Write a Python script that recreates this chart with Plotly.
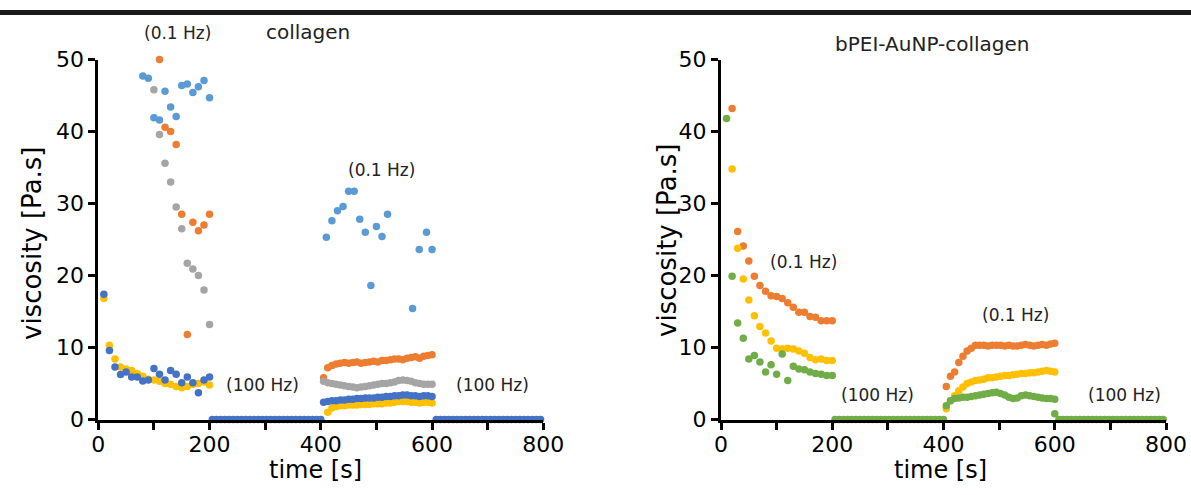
import numpy as np
import plotly.graph_objects as go

# ---- data: collagen (left panel) ----
t_seg1 = list(range(10, 201, 10))
t_dense = list(np.arange(405, 601, 7.5))
t_100a = list(np.arange(205, 401, 7.5))
t_100b = list(np.arange(607.5, 796, 7.5))

lblue_t = [80, 90, 100, 110, 120, 130, 140, 150, 160, 170, 180, 190, 200,
           410, 420, 430, 440, 450, 460, 470, 480, 490, 500, 510, 520, 565, 577, 590, 600]
lblue_v = [47.7, 47.4, 41.9, 41.6, 45.6, 43.4, 42.1, 46.4, 46.6, 45.4, 46.2, 47.1, 44.7,
           25.3, 27.6, 29.0, 29.6, 31.7, 31.7, 27.8, 26.0, 18.6, 26.8, 25.4, 28.5, 15.4, 23.6, 26.0, 23.6]

orange_t1 = [110, 120, 130, 140, 150, 160, 170, 180, 190, 200]
orange_v1 = [50.0, 40.6, 40.0, 38.2, 28.5, 11.8, 27.4, 26.2, 27.0, 28.5]
orange_v2 = [5.8, 7.2, 7.5, 7.7, 7.8, 7.9, 7.8, 7.9, 8.0, 7.8, 7.9, 8.0, 8.1, 8.0,
             8.2, 8.2, 8.3, 8.4, 8.4, 8.3, 8.5, 8.6, 8.7, 8.5, 8.8, 8.9, 9.0]

gray_t1 = [100, 110, 120, 130, 140, 150, 160, 170, 180, 190, 200]
gray_v1 = [45.8, 39.6, 35.6, 33.0, 29.5, 26.5, 21.7, 20.9, 20.0, 18.0, 13.2]
gray_v2 = [5.3, 5.1, 5.0, 4.9, 4.8, 4.7, 4.6, 4.5, 4.4, 4.5, 4.6, 4.7, 4.8, 4.9,
           5.0, 5.0, 5.1, 5.2, 5.4, 5.5, 5.4, 5.3, 5.1, 5.0, 4.9, 4.9, 4.9]

yellow_v1 = [16.8, 10.3, 8.4, 7.3, 7.0, 6.8, 6.4, 6.0, 5.6, 5.5,
             5.3, 5.0, 4.9, 4.6, 4.4, 4.6, 4.9, 5.0, 5.2, 4.8]
yellow_v2 = [None, 1.0, 1.6, 1.8, 1.9, 1.9, 2.0, 2.0, 2.0, 2.1, 2.1, 2.1, 2.2, 2.2,
             2.2, 2.3, 2.3, 2.4, 2.5, 2.5, 2.5, 2.4, 2.4, 2.3, 2.4, 2.4, 2.3]

dblue_v1 = [17.4, 9.6, 7.3, 6.25, 6.6, 5.9, 5.9, 5.35, 5.5, 7.1,
            6.3, 5.5, 6.8, 6.3, 5.1, 5.9, 5.1, 3.7, 5.5, 5.9]
dblue_v2 = [2.4, 2.5, 2.6, 2.6, 2.7, 2.7, 2.8, 2.8, 2.9, 2.9, 3.0, 3.0, 3.0, 3.1,
            3.1, 3.2, 3.2, 3.3, 3.3, 3.4, 3.4, 3.3, 3.3, 3.2, 3.3, 3.3, 3.2]
zeros_a = [0] * len(t_100a)
zeros_b = [0] * len(t_100b)

# ---- data: bPEI-AuNP-collagen (right panel) ----
t_r1 = list(range(20, 201, 10))
r_orange_v1 = [43.2, 26.1, 24.1, 22.0, 19.9, 18.6, 17.8, 17.2, 17.1, 16.8,
               16.2, 15.6, 14.9, 14.9, 14.3, 14.2, 13.7, 13.7, 13.7]
r_orange_v2 = [4.6, 6.0, 6.6, 7.9, 8.8, 9.5, 9.9, 10.3, 10.3, 10.3, 10.2, 10.3, 10.3, 10.3,
               10.2, 10.3, 10.2, 10.2, 10.3, 10.4, 10.3, 10.2, 10.3, 10.4, 10.3, 10.5, 10.6]
r_yellow_v1 = [34.8, 23.8, 19.5, 16.6, 14.4, 12.9, 12.0, 10.9, 9.9, 9.8,
               9.9, 9.8, 9.5, 9.2, 8.6, 8.3, 8.4, 8.2, 8.2]
r_yellow_v2 = [1.5, 2.6, 3.3, 4.0, 4.5, 5.0, 5.2, 5.4, 5.5, 5.6, 5.8, 5.8, 5.9, 6.0,
               6.1, 6.1, 6.2, 6.3, 6.4, 6.4, 6.5, 6.5, 6.6, 6.7, 6.8, 6.7, 6.6]
r_green_v1 = [41.8, 19.9, 13.4, 11.3, 8.4, 8.9, 8.0, 6.6, 7.6, 6.3,
              9.1, 5.4, 7.4, 7.0, 6.9, 6.6, 6.4, 6.3, 6.1, 6.1]
r_green_v2 = [1.9, 2.6, 2.9, 3.0, 3.1, 3.1, 3.2, 3.3, 3.4, 3.5, 3.6, 3.7, 3.8, 3.6,
              3.4, 3.1, 2.9, 3.0, 3.3, 3.4, 3.3, 3.2, 3.1, 3.0, 2.9, 2.9, 2.8]
t_r100b = [600] + t_100b
r_green_v4 = [0.8] + zeros_b

LBLUE = "#5B9BD5"
ORANGE = "#ED7D31"
GRAY = "#A5A5A5"
YELLOW = "#FFC000"
DBLUE = "#4472C4"
GREEN = "#70AD47"
FONT = "DejaVu Sans, Arial, sans-serif"

# page body margin is removed (post_script below) so paper == window pixels
W, H = 1191, 495


def px(x):
    return x / W


def py(y):
    return 1 - y / H


fig = go.Figure()


def dots(x, y, color, xa="x", ya="y"):
    fig.add_trace(go.Scatter(x=x, y=y, mode="markers", xaxis=xa, yaxis=ya,
                             marker=dict(size=7.5, color=color), cliponaxis=False,
                             showlegend=False, hoverinfo="x+y"))


# left panel
dots(lblue_t, lblue_v, LBLUE)
dots(orange_t1 + t_dense, orange_v1 + orange_v2, ORANGE)
dots(gray_t1 + t_dense, gray_v1 + gray_v2, GRAY)
dots(t_seg1 + t_dense, yellow_v1 + yellow_v2, YELLOW)
dots(t_seg1 + t_dense + t_100a + t_100b, dblue_v1 + dblue_v2 + zeros_a + zeros_b, DBLUE)

# right panel
dots(t_r1 + t_dense, r_orange_v1 + r_orange_v2, ORANGE, "x2", "y2")
dots(t_r1 + t_dense, r_yellow_v1 + r_yellow_v2, YELLOW, "x2", "y2")
dots(t_seg1 + t_dense + t_100a + t_r100b, r_green_v1 + r_green_v2 + zeros_a + r_green_v4,
     GREEN, "x2", "y2")

xticks = list(range(0, 801, 100))
xtext = [str(v) if v % 200 == 0 else "" for v in xticks]
axis_common = dict(showline=True, linewidth=3, linecolor="black", ticks="outside",
                   ticklen=7, tickwidth=3, tickcolor="black", showgrid=False,
                   zeroline=False, automargin=False,
                   tickfont=dict(family=FONT, size=22, color="black"))
xdom = dict(range=[0, 800], tickvals=xticks, ticktext=xtext, ticklabelstandoff=-4)
ydom = dict(domain=[py(419.5), py(59.5)], range=[0, 50], dtick=10)

fig.update_layout(
    width=W, height=H,
    margin=dict(l=0, r=0, t=0, b=0),
    plot_bgcolor="white", paper_bgcolor="white",
    xaxis=dict(domain=[px(98.3), px(543.3)], anchor="y", **xdom, **axis_common),
    yaxis=dict(anchor="x", **ydom, **axis_common),
    xaxis2=dict(domain=[px(721), px(1166)], anchor="y2", **xdom, **axis_common),
    yaxis2=dict(anchor="x2", **ydom, **axis_common),
    shapes=[dict(type="line", xref="paper", yref="paper", x0=-0.01, x1=1.01,
                 y0=py(12.5), y1=py(12.5), line=dict(color="#1a1a1a", width=5))],
)


def note(text, x, y, size=17, angle=0, color="#222222"):
    fig.add_annotation(text=text, x=px(x), y=py(y), xref="paper", yref="paper",
                       xanchor="center", yanchor="middle",
                       showarrow=False, textangle=angle,
                       font=dict(family=FONT, size=size, color=color))


note("(0.1 Hz)", 177, 33)
note("collagen", 308, 32, size=20)
note("(0.1 Hz)", 381, 170)
note("(100 Hz)", 262, 385)
note("(100 Hz)", 492, 385)
note("bPEI-AuNP-collagen", 932, 44, size=20)
note("(0.1 Hz)", 803, 262)
note("(0.1 Hz)", 1015, 315)
note("(100 Hz)", 878, 395)
note("(100 Hz)", 1124, 395)

# axis titles
note("viscosity [Pa.s]", 32, 243, size=26, angle=-90, color="black")
note("viscosity [Pa.s]", 667, 240, size=26, angle=-90, color="black")
note("time [s]", 315, 470, size=24, color="black")
note("time [s]", 940, 470, size=24, color="black")

fig.write_html("out.html", config={"displayModeBar": False},
               post_script="document.body.style.margin='0px';"
                           "document.body.style.overflow='hidden';")
